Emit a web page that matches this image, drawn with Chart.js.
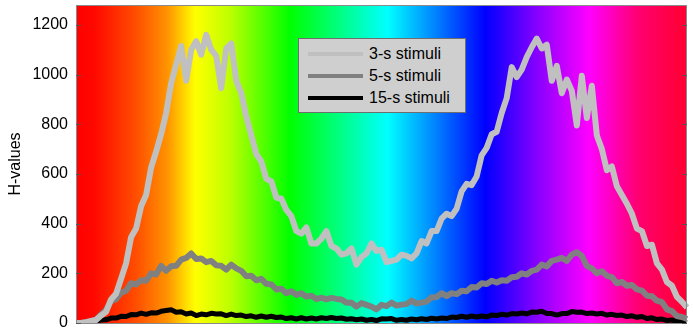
<!DOCTYPE html>
<html>
<head>
<meta charset="utf-8">
<script src="https://cdn.jsdelivr.net/npm/chart.js@4"></script>
<style>
  html, body { margin: 0; padding: 0; background: #fff; }
  #wrap { position: relative; width: 693px; height: 335px; }
  #legend {
    position: absolute; left: 298px; top: 38px; width: 166px; height: 73px;
    background: #cfcfcf; border: 1px solid #6e6e6e;
    font-family: "Liberation Sans", Arial, sans-serif; font-size: 16px; color: #000;
  }
  #legend .row { position: absolute; left: 0; height: 20px; }
  #legend .swatch { position: absolute; left: 9px; top: 8px; width: 55px; height: 4px; }
  #legend .txt { position: absolute; left: 70px; top: 0; white-space: nowrap; line-height: 20px; }
</style>
</head>
<body>
<div id="wrap">
  <canvas id="chart" width="693" height="335"></canvas>
  <div id="legend"></div>
</div>
<script>
// values, one sample every ~5 px
const stim3 = [0, 0, 3, 8, 12, 30, 45, 95, 118, 178, 240, 345, 380, 470, 515, 625, 690, 760, 845, 965,
  1040, 1115, 975, 1100, 1135, 1080, 1160, 1100, 1075, 945, 1105, 1125, 975, 925, 830, 755, 680, 650, 580, 570,
  505, 500, 455, 430, 370, 360, 385, 320, 320, 340, 370, 310, 300, 275, 280, 300, 235, 265, 280, 320,
  290, 295, 245, 250, 255, 275, 270, 260, 280, 330, 320, 370, 370, 420, 440, 430, 460, 530, 560, 555,
  590, 675, 705, 760, 770, 845, 905, 1030, 990, 1020, 1070, 1110, 1145, 1105, 1120, 975, 1035, 925, 980, 935,
  795, 995, 825, 955, 755, 700, 615, 630, 550, 515, 480, 440, 380, 370, 310, 315, 240, 215, 165, 150,
  105, 85, 62];
const stim5 = [0, 0, 3, 6, 14, 34, 52, 88, 96, 122, 130, 160, 155, 172, 170, 200, 195, 230, 210, 228,
  230, 255, 262, 280, 258, 260, 245, 250, 232, 230, 215, 235, 220, 210, 188, 190, 172, 178, 158, 155,
  135, 138, 120, 128, 113, 120, 106, 110, 96, 102, 95, 101, 97, 95, 82, 82, 66, 80, 73, 66,
  55, 73, 68, 82, 70, 74, 76, 90, 78, 82, 86, 104, 104, 120, 108, 120, 116, 130, 128, 145,
  143, 160, 157, 170, 163, 172, 170, 184, 186, 200, 195, 210, 215, 235, 228, 250, 255, 262, 250, 275,
  285, 270, 230, 220, 200, 208, 190, 185, 160, 165, 150, 153, 135, 130, 110, 108, 90, 84, 55, 48,
  28, 24, 16];
const stim15 = [0, 0, 2, 5, 6, 12, 13, 20, 20, 27, 26, 34, 33, 40, 35, 41, 40, 47, 50, 53,
  43, 45, 36, 40, 30, 36, 33, 39, 36, 37, 30, 36, 30, 32, 26, 29, 23, 28, 23, 27,
  22, 24, 18, 21, 16, 21, 16, 20, 16, 21, 18, 22, 18, 20, 15, 17, 13, 16, 11, 14,
  10, 17, 16, 18, 11, 14, 11, 16, 13, 17, 14, 19, 16, 20, 18, 24, 22, 27, 23, 28,
  24, 28, 25, 32, 30, 35, 32, 38, 36, 40, 37, 44, 43, 47, 38, 38, 32, 38, 38, 46,
  43, 44, 38, 40, 36, 39, 32, 35, 30, 32, 26, 29, 23, 26, 18, 21, 14, 16, 10, 12,
  6, 5, 2];
const seriesNames = ['3-s stimuli', '5-s stimuli', '15-s stimuli'];
const seriesColors = ['#c0c0c0', '#808080', '#000000'];
const seriesWidths = [6, 6, 5];
const yTicks = [0, 200, 400, 600, 800, 1000, 1200];
const xLabels = stim3.map(function (v, i) { return i; });

const rainbow = {
  id: 'rainbow',
  beforeDatasetsDraw: function (chart) {
    const a = chart.chartArea;
    const ctx = chart.ctx;
    const g = ctx.createLinearGradient(a.left, 0, a.right, 0);
    g.addColorStop(0.00, '#ff0000');
    g.addColorStop(0.03, '#ff0800');
    g.addColorStop(0.10, '#ff5000');
    g.addColorStop(0.15, '#ff9400');
    g.addColorStop(0.175, '#ffd000');
    g.addColorStop(0.195, '#ffff00');
    g.addColorStop(0.25, '#c0ff00');
    g.addColorStop(0.35, '#00ff00');
    g.addColorStop(0.51, '#00ffff');
    g.addColorStop(0.67, '#0000ff');
    g.addColorStop(0.75, '#8000ff');
    g.addColorStop(0.84, '#ff00ff');
    g.addColorStop(0.92, '#ff0070');
    g.addColorStop(1.00, '#ff0030');
    ctx.save();
    ctx.fillStyle = g;
    ctx.fillRect(a.left, a.top, a.right - a.left, a.bottom - a.top);
    ctx.restore();
  },
  afterDraw: function (chart) {
    const a = chart.chartArea;
    const ctx = chart.ctx;
    const y = chart.scales.y;
    ctx.save();
    ctx.strokeStyle = '#8a8a8a';
    ctx.lineWidth = 1;
    ctx.strokeRect(a.left + 0.5, a.top + 0.5, a.right - a.left - 1, a.bottom - a.top);
    ctx.strokeStyle = '#555';
    yTicks.forEach(function (t) {
      const py = Math.round(y.getPixelForValue(t)) + 0.5;
      ctx.beginPath();
      ctx.moveTo(a.left, py); ctx.lineTo(a.left + 5, py);
      ctx.moveTo(a.right, py); ctx.lineTo(a.right - 5, py);
      ctx.stroke();
    });
    ctx.restore();
  }
};

const ctx = document.getElementById('chart').getContext('2d');
new Chart(ctx, {
  type: 'line',
  data: {
    labels: xLabels,
    datasets: [stim3, stim5, stim15].map(function (d, i) {
      return {
        label: seriesNames[i],
        data: d,
        borderColor: seriesColors[i],
        borderWidth: seriesWidths[i],
        pointRadius: 0,
        tension: 0,
        borderJoinStyle: 'round'
      };
    })
  },
  options: {
    responsive: false,
    animation: false,
    layout: { padding: { left: 0, right: 6, top: 5, bottom: 12 } },
    plugins: { legend: { display: false }, tooltip: { enabled: false } },
    scales: {
      x: { display: false },
      y: {
        min: 0,
        max: 1280,
        grid: { display: false, drawTicks: false },
        border: { display: false },
        afterFit: function (s) { s.width = 76; s.paddingTop = 0; s.paddingBottom = 0; },
        afterBuildTicks: function (s) { s.ticks = yTicks.map(function (v) { return { value: v }; }); },
        ticks: {
          padding: 8,
          color: '#000',
          callback: function (v) { return String(v); },
          font: { family: '"Liberation Sans", Arial, sans-serif', size: 16 }
        },
        title: {
          display: true,
          text: 'H-values',
          color: '#000',
          padding: { top: 6, bottom: 0 },
          font: { family: '"Liberation Sans", Arial, sans-serif', size: 16 }
        }
      }
    }
  },
  plugins: [rainbow]
});

// legend drawn as html on top of the plot
const legend = document.getElementById('legend');
seriesNames.forEach(function (name, i) {
  const row = document.createElement('div');
  row.className = 'row';
  row.style.top = (5 + i * 22) + 'px';
  row.style.width = '100%';
  row.innerHTML = '<div class="swatch" style="background:' + seriesColors[i] + '"></div><div class="txt">' + name + '</div>';
  legend.appendChild(row);
});
</script>
</body>
</html>
